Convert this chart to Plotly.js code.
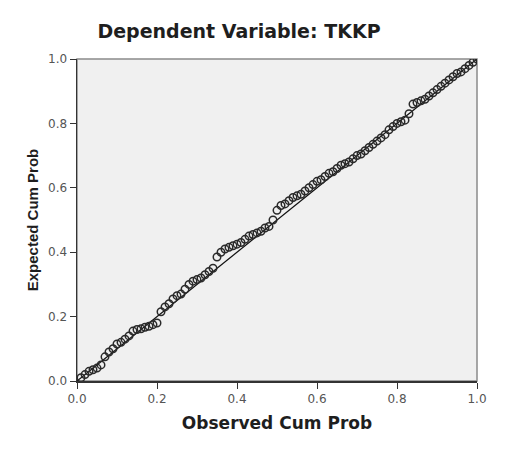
<!DOCTYPE html>
<html>
<head>
<meta charset="utf-8">
<script src="https://cdn.plot.ly/plotly-3.0.1.min.js"></script>
<style>html,body{margin:0;padding:0;background:#fff;}#chart{width:511px;height:450px;}</style>
</head>
<body>
<div id="chart"></div>
<script>
const chartTitle = "Dependent Variable: TKKP";
const xTitle = "Observed Cum Prob";
const yTitle = "Expected Cum Prob";
const tickVals = [0.0, 0.2, 0.4, 0.6, 0.8, 1.0];
const tickText = ["0.0", "0.2", "0.4", "0.6", "0.8", "1.0"];

const observedCumProb = [
  0.01,0.02,0.03,0.04,0.05,0.06,0.07,0.08,0.09,0.10,
  0.11,0.12,0.13,0.14,0.15,0.16,0.17,0.18,0.19,0.20,
  0.21,0.22,0.23,0.24,0.25,0.26,0.27,0.28,0.29,0.30,
  0.31,0.32,0.33,0.34,0.35,0.36,0.37,0.38,0.39,0.40,
  0.41,0.42,0.43,0.44,0.45,0.46,0.47,0.48,0.49,0.50,
  0.51,0.52,0.53,0.54,0.55,0.56,0.57,0.58,0.59,0.60,
  0.61,0.62,0.63,0.64,0.65,0.66,0.67,0.68,0.69,0.70,
  0.71,0.72,0.73,0.74,0.75,0.76,0.77,0.78,0.79,0.80,
  0.81,0.82,0.83,0.84,0.85,0.86,0.87,0.88,0.89,0.90,
  0.91,0.92,0.93,0.94,0.95,0.96,0.97,0.98,0.99,1.00
];
const expectedCumProb = [
  0.010,0.020,0.030,0.035,0.040,0.050,0.075,0.090,0.100,0.115,
  0.120,0.130,0.140,0.155,0.160,0.162,0.167,0.170,0.175,0.180,
  0.215,0.230,0.240,0.255,0.265,0.270,0.285,0.300,0.310,0.315,
  0.320,0.330,0.340,0.350,0.385,0.400,0.410,0.415,0.420,0.425,
  0.430,0.440,0.450,0.455,0.460,0.465,0.475,0.480,0.500,0.530,
  0.545,0.550,0.560,0.570,0.575,0.580,0.590,0.600,0.610,0.620,
  0.625,0.635,0.645,0.650,0.660,0.670,0.675,0.680,0.690,0.700,
  0.705,0.715,0.725,0.735,0.745,0.755,0.765,0.780,0.790,0.800,
  0.805,0.810,0.830,0.860,0.865,0.870,0.875,0.885,0.895,0.905,
  0.915,0.925,0.935,0.945,0.955,0.960,0.970,0.980,0.990,1.000
];
const refLineX = [0, 1];
const refLineY = [0, 1];

const traces = [
  {
    x: refLineX, y: refLineY, type: "scatter", mode: "lines",
    line: {color: "#111111", width: 1.3}, hoverinfo: "skip", showlegend: false
  },
  {
    x: observedCumProb, y: expectedCumProb, type: "scatter", mode: "markers",
    marker: {symbol: "circle-open", size: 7.5, color: "#2a2a2a", line: {width: 1.5, color: "#2a2a2a"}},
    showlegend: false
  }
];

const tickFont = {family: "DejaVu Sans, Arial, sans-serif", size: 12, color: "#555555"};

const layout = {
  width: 511, height: 450,
  margin: {l: 77, r: 34, t: 59, b: 69, pad: 0},
  paper_bgcolor: "#ffffff",
  plot_bgcolor: "#f0f0f0",
  showlegend: false,
  title: {
    text: "<b>" + chartTitle + "</b>",
    font: {family: "DejaVu Sans, Arial, sans-serif", size: 19, color: "#1e1e1e"},
    x: 239/511, xref: "container", xanchor: "center",
    y: 1 - 31/450, yref: "container", yanchor: "middle"
  },
  xaxis: {
    range: [0, 1], tickvals: tickVals, ticktext: tickText,
    ticks: "outside", ticklen: 6, tickwidth: 1, tickcolor: "#333333",
    showgrid: false, zeroline: false,
    showline: true, linecolor: "#333333", linewidth: 1.5,
    tickfont: tickFont,
    title: {text: "<b>" + xTitle + "</b>", standoff: 12,
            font: {family: "DejaVu Sans, Arial, sans-serif", size: 17, color: "#1e1e1e"}},
    fixedrange: true
  },
  yaxis: {
    range: [0, 1], tickvals: tickVals, ticktext: tickText,
    ticks: "outside", ticklen: 6, tickwidth: 1, tickcolor: "#333333",
    showgrid: false, zeroline: false,
    showline: true, linecolor: "#333333", linewidth: 1.5,
    tickfont: tickFont,
    title: {text: "<b>" + yTitle + "</b>", standoff: 6,
            font: {family: "Liberation Sans, Arial, sans-serif", size: 15, color: "#1e1e1e"}},
    fixedrange: true
  },
  shapes: [
    {type: "rect", xref: "paper", yref: "paper", x0: 0, y0: 0, x1: 1, y1: 1,
     line: {color: "#8a8a8a", width: 1.5}, fillcolor: "rgba(0,0,0,0)", layer: "below"}
  ]
};

Plotly.newPlot("chart", traces, layout, {displayModeBar: false, staticPlot: true});
</script>
</body>
</html>
